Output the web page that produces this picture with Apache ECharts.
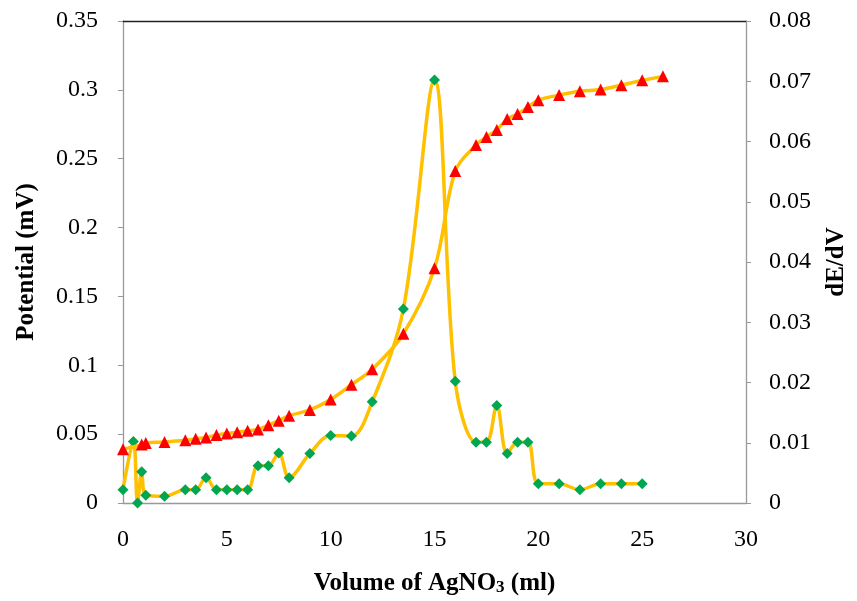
<!DOCTYPE html>
<html>
<head>
<meta charset="utf-8">
<script src="https://cdn.jsdelivr.net/npm/echarts@6/dist/echarts.min.js"></script>
<style>html,body{margin:0;padding:0;background:#fff}#c{width:857px;height:601px}</style>
</head>
<body>
<div id="c"></div>
<script>
// Potential (left axis), triangles
const potX = [0, 0.9, 1.1, 2, 3, 3.5, 4, 4.5, 5, 5.5, 6, 6.5, 7, 7.5, 8, 9, 10, 11, 12, 13.5, 15, 16, 17, 17.5, 18, 18.5, 19, 19.5, 20, 21, 22, 23, 24, 25, 26];
const potY = [0.0391, 0.0424, 0.0436, 0.0443, 0.0455, 0.0466, 0.0476, 0.0493, 0.0505, 0.0514, 0.0524, 0.0534, 0.0565, 0.0598, 0.0634, 0.0676, 0.0752, 0.0859, 0.0971, 0.1229, 0.1705, 0.241, 0.260, 0.2657, 0.2709, 0.2788, 0.2824, 0.2876, 0.2925, 0.2962, 0.299, 0.3002, 0.3034, 0.3069, 0.3098];
// dE/dV (right axis), diamonds
const derX = [0, 0.5, 0.7, 0.9, 1.1, 2, 3, 3.5, 4, 4.5, 5, 5.5, 6, 6.5, 7, 7.5, 8, 9, 10, 11, 12, 13.5, 15, 16, 17, 17.5, 18, 18.5, 19, 19.5, 20, 21, 22, 23, 24, 25];
const derY = [0.0022, 0.0102, 0, 0.0052, 0.0013, 0.0011, 0.0022, 0.0022, 0.0042, 0.0022, 0.0022, 0.0022, 0.0022, 0.0062, 0.0062, 0.0083, 0.0042, 0.0082, 0.0112, 0.0111, 0.0168, 0.0322, 0.0702, 0.0202, 0.0101, 0.0101, 0.0162, 0.0082, 0.0101, 0.0101, 0.0032, 0.0032, 0.0022, 0.0032, 0.0032, 0.0032];
const xTicks = [0, 5, 10, 15, 20, 25, 30];
const leftTicks = [0, 0.05, 0.1, 0.15, 0.2, 0.25, 0.3, 0.35];
const rightTicks = [0, 0.01, 0.02, 0.03, 0.04, 0.05, 0.06, 0.07, 0.08];

const serif = '"Liberation Serif", "Times New Roman", serif';
const chart = echarts.init(document.getElementById('c'), null, {renderer: 'canvas'});
const lbl = {fontFamily: serif, fontSize: 24, color: '#000'};
const ttl = {fontFamily: serif, fontSize: 25, fontWeight: 'bold', color: '#000'};
chart.setOption({
  animation: false,
  backgroundColor: '#fff',
  grid: {left: 123, right: 105, top: 21, bottom: 89},
  xAxis: [{
    type: 'value', min: xTicks[0], max: xTicks[xTicks.length - 1], interval: 5,
    axisLine: {show: true, onZero: false, lineStyle: {color: '#999', width: 1.3}},
    axisTick: {show: false},
    splitLine: {show: false},
    axisLabel: Object.assign({margin: 25}, lbl),
    name: 'Volume of AgNO{s|3} (ml)',
    nameLocation: 'middle', nameGap: 68,
    nameTextStyle: Object.assign({
      rich: {s: {fontFamily: serif, fontSize: 17, fontWeight: 'bold', color: '#000', verticalAlign: 'bottom', padding: [8, 0, 0, 0]}}}, ttl)
  }, {
    type: 'value', position: 'top', min: 0, max: 30,
    axisLine: {show: true, onZero: false, lineStyle: {color: '#222', width: 1.3}},
    axisTick: {show: false}, axisLabel: {show: false}, splitLine: {show: false}
  }],
  yAxis: [{
    type: 'value', min: 0, max: 0.35, interval: 0.05,
    axisLine: {show: true, onZero: false, lineStyle: {color: '#999', width: 1.3}},
    axisTick: {show: true, inside: false, length: 5, lineStyle: {color: '#999'}},
    splitLine: {show: false},
    axisLabel: Object.assign({margin: 25, formatter: v => String(+v.toFixed(2))}, lbl),
    name: 'Potential (mV)', nameLocation: 'middle', nameGap: 84,
    nameTextStyle: ttl
  }, {
    type: 'value', min: 0, max: 0.08, interval: 0.01, position: 'right',
    axisLine: {show: true, onZero: false, lineStyle: {color: '#999', width: 1.3}},
    axisTick: {show: true, inside: false, length: 5, lineStyle: {color: '#999'}},
    splitLine: {show: false},
    axisLabel: Object.assign({margin: 23, formatter: v => String(+v.toFixed(2))}, lbl),
    name: 'dE/dV', nameLocation: 'middle', nameGap: 78, nameRotate: 90,
    nameTextStyle: ttl
  }],
  series: [{
    type: 'line', yAxisIndex: 1, smooth: 0.35,
    data: derX.map((x, i) => [x, derY[i]]),
    lineStyle: {color: '#FFC000', width: 3.5},
    symbol: 'diamond', symbolSize: 11,
    itemStyle: {color: '#00A650', borderWidth: 0},
    z: 2
  }, {
    type: 'line', yAxisIndex: 0, smooth: 0.35,
    data: potX.map((x, i) => [x, potY[i]]),
    lineStyle: {color: '#FFC000', width: 3.5},
    symbol: 'triangle', symbolSize: 12,
    itemStyle: {color: '#FF0000', borderWidth: 0},
    z: 3
  }]
});
</script>
</body>
</html>
